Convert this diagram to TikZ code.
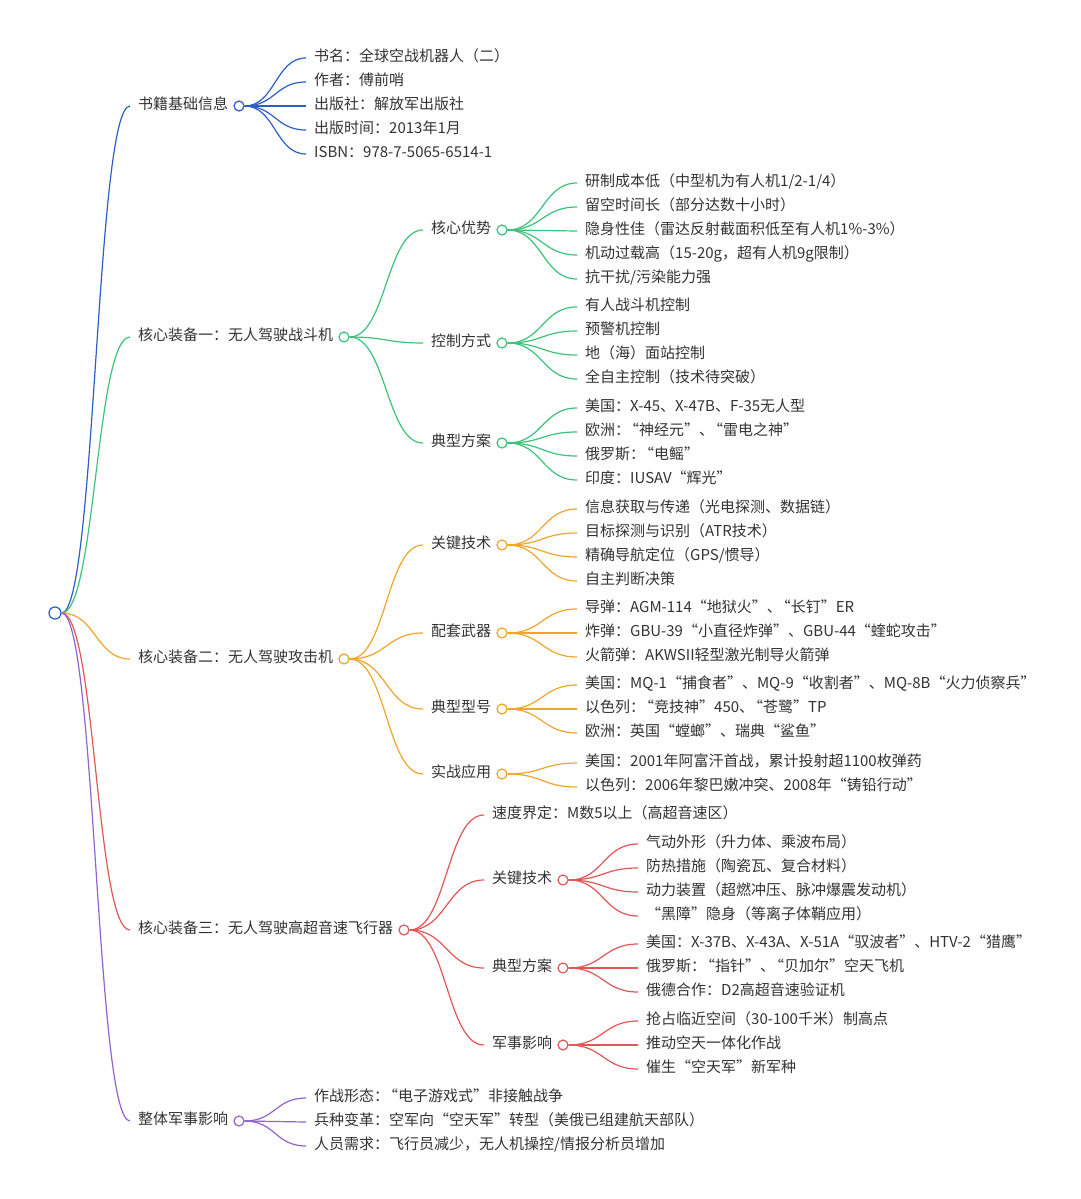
\documentclass[tikz,border=0pt]{standalone}
\usepackage{fontspec}
\setmainfont{Noto Sans CJK SC}
\usetikzlibrary{calc}
\definecolor{cb}{HTML}{2B5FC4}
\definecolor{cg}{HTML}{3CC27A}
\definecolor{co}{HTML}{F0A52A}
\definecolor{cr}{HTML}{E35656}
\definecolor{cp}{HTML}{9063CF}
\definecolor{txt}{HTML}{333333}
\newcommand\Lq{{\addfontfeature{CharacterWidth=Full}“}}
\newcommand\Rq{{\addfontfeature{CharacterWidth=Full}”}}
\newcommand\Lc{\hspace{-0.4em}\Lq}
\newcommand\lnkdraw[3]{\draw[lnk=#1] let \p1=(#2.east), \p2=(#3.west), \n1={(\x1+\x2)/2} in (#2.east) .. controls (\n1,\y1) and (\n1,\y2) .. (#3.west);}
\tikzset{
  lnk/.style={draw=#1, line width=1.2pt},
  tx/.style={anchor=west, inner xsep=8pt, inner ysep=0pt, text height=0.88em, text depth=0.12em, text=txt, font=\fontsize{15}{18}\selectfont},
  dot/.style={circle, draw=#1, fill=white, line width=1.2pt, minimum size=10pt, inner sep=0pt, anchor=west},
}
\begin{document}
\begin{tikzpicture}[x=1pt,y=-1pt]
\useasboundingbox[fill=white] (0,0) rectangle (1080,1199);
\begin{scope}[yshift=-2pt]
% root
\node[dot=cb, minimum size=12pt, anchor=center] (root) at (55,611) {};
% level 1
\node[tx] (b0) at (130,104) {书籍基础信息};
\node[dot=cb] (b0c) at ([xshift=-3pt]b0.east) {};
\node[tx] (g0) at (130,335) {核心装备一：无人驾驶战斗机};
\node[dot=cg] (g0c) at ([xshift=-3pt]g0.east) {};
\node[tx] (o0) at (130,657) {核心装备二：无人驾驶攻击机};
\node[dot=co] (o0c) at ([xshift=-3pt]o0.east) {};
\node[tx] (r0) at (130,928) {核心装备三：无人驾驶高超音速飞行器};
\node[dot=cr] (r0c) at ([xshift=-3pt]r0.east) {};
\node[tx] (p0) at (130,1119) {整体军事影响};
\node[dot=cp] (p0c) at ([xshift=-3pt]p0.east) {};
\foreach \nm/\cl in {b0/cb,g0/cg,o0/co,r0/cr,p0/cp}{\lnkdraw{\cl}{root}{\nm}}
% blue leaves
\node[tx] (b1) at (306,56) {书名：全球空战机器人（二）};
\node[tx] (b2) at (306,80) {作者：傅前哨};
\node[tx] (b3) at (306,104) {出版社：解放军出版社};
\node[tx] (b4) at (306,128) {出版时间：2013年1月};
\node[tx] (b5) at (306,152) {ISBN：978-7-5065-6514-1};
\foreach \nm in {b1,b2,b3,b4,b5}{\lnkdraw{cb}{b0c}{\nm}}
% green level 2
\node[tx] (g1) at (423,228) {核心优势};
\node[dot=cg] (g1c) at ([xshift=-3pt]g1.east) {};
\node[tx] (g2) at (423,341) {控制方式};
\node[dot=cg] (g2c) at ([xshift=-3pt]g2.east) {};
\node[tx] (g3) at (423,441) {典型方案};
\node[dot=cg] (g3c) at ([xshift=-3pt]g3.east) {};
\foreach \nm in {g1,g2,g3}{\lnkdraw{cg}{g0c}{\nm}}
\node[tx] (g11) at (577,181) {研制成本低（中型机为有人机1/2-1/4）};
\node[tx] (g12) at (577,205) {留空时间长（部分达数十小时）};
\node[tx] (g13) at (577,229) {隐身性佳（雷达反射截面积低至有人机1\%-3\%）};
\node[tx] (g14) at (577,253) {机动过载高（15-20g，超有人机9g限制）};
\node[tx] (g15) at (577,277) {抗干扰/污染能力强};
\foreach \nm in {g11,g12,g13,g14,g15}{\lnkdraw{cg}{g1c}{\nm}}
\node[tx] (g21) at (577,305) {有人战斗机控制};
\node[tx] (g22) at (577,329) {预警机控制};
\node[tx] (g23) at (577,353) {地（海）面站控制};
\node[tx] (g24) at (577,377) {全自主控制（技术待突破）};
\foreach \nm in {g21,g22,g23,g24}{\lnkdraw{cg}{g2c}{\nm}}
\node[tx] (g31) at (577,406) {美国：X-45、X-47B、F-35无人型};
\node[tx] (g32) at (577,430) {欧洲：\Lc 神经元\Rq 、\Lc 雷电之神\Rq};
\node[tx] (g33) at (577,454) {俄罗斯：\Lc 电鳐\Rq};
\node[tx] (g34) at (577,478) {印度：IUSAV\Lq 辉光\Rq};
\foreach \nm in {g31,g32,g33,g34}{\lnkdraw{cg}{g3c}{\nm}}
% orange level 2
\node[tx] (o1) at (423,543) {关键技术};
\node[dot=co] (o1c) at ([xshift=-3pt]o1.east) {};
\node[tx] (o2) at (423,631) {配套武器};
\node[dot=co] (o2c) at ([xshift=-3pt]o2.east) {};
\node[tx] (o3) at (423,707) {典型型号};
\node[dot=co] (o3c) at ([xshift=-3pt]o3.east) {};
\node[tx] (o4) at (423,772) {实战应用};
\node[dot=co] (o4c) at ([xshift=-3pt]o4.east) {};
\foreach \nm in {o1,o2,o3,o4}{\lnkdraw{co}{o0c}{\nm}}
\node[tx] (o11) at (577,507) {信息获取与传递（光电探测、数据链）};
\node[tx] (o12) at (577,531) {目标探测与识别（ATR技术）};
\node[tx] (o13) at (577,555) {精确导航定位（GPS/惯导）};
\node[tx] (o14) at (577,579) {自主判断决策};
\foreach \nm in {o11,o12,o13,o14}{\lnkdraw{co}{o1c}{\nm}}
\node[tx] (o21) at (577,607) {导弹：AGM-114\Lq 地狱火\Rq 、\Lc 长钉\Rq ER};
\node[tx] (o22) at (577,631) {炸弹：GBU-39\Lq 小直径炸弹\Rq 、GBU-44\Lq 蝰蛇攻击\Rq};
\node[tx] (o23) at (577,655) {火箭弹：AKWSII轻型激光制导火箭弹};
\foreach \nm in {o21,o22,o23}{\lnkdraw{co}{o2c}{\nm}}
\node[tx] (o31) at (577,683) {美国：MQ-1\Lq 捕食者\Rq 、MQ-9\Lq 收割者\Rq 、MQ-8B\Lq 火力侦察兵\Rq};
\node[tx] (o32) at (577,707) {以色列：\Lc 竞技神\Rq 450、\Lc 苍鹭\Rq TP};
\node[tx] (o33) at (577,731) {欧洲：英国\Lq 螳螂\Rq 、瑞典\Lq 鲨鱼\Rq};
\foreach \nm in {o31,o32,o33}{\lnkdraw{co}{o3c}{\nm}}
\node[tx] (o41) at (577,761) {美国：2001年阿富汗首战，累计投射超1100枚弹药};
\node[tx] (o42) at (577,785) {以色列：2006年黎巴嫩冲突、2008年\Lq 铸铅行动\Rq};
\foreach \nm in {o41,o42}{\lnkdraw{co}{o4c}{\nm}}
% red level 2
\node[tx] (r1) at (484,813) {速度界定：M数5以上（高超音速区）};
\node[tx] (r2) at (484,878) {关键技术};
\node[dot=cr] (r2c) at ([xshift=-3pt]r2.east) {};
\node[tx] (r3) at (484,966) {典型方案};
\node[dot=cr] (r3c) at ([xshift=-3pt]r3.east) {};
\node[tx] (r4) at (484,1043) {军事影响};
\node[dot=cr] (r4c) at ([xshift=-3pt]r4.east) {};
\foreach \nm in {r1,r2,r3,r4}{\lnkdraw{cr}{r0c}{\nm}}
\node[tx] (r21) at (638,842) {气动外形（升力体、乘波布局）};
\node[tx] (r22) at (638,866) {防热措施（陶瓷瓦、复合材料）};
\node[tx] (r23) at (638,890) {动力装置（超燃冲压、脉冲爆震发动机）};
\node[tx] (r24) at (638,914) {\Lq 黑障\Rq 隐身（等离子体鞘应用）};
\foreach \nm in {r21,r22,r23,r24}{\lnkdraw{cr}{r2c}{\nm}}
\node[tx] (r31) at (638,942) {美国：X-37B、X-43A、X-51A\Lq 驭波者\Rq 、HTV-2\Lq 猎鹰\Rq};
\node[tx] (r32) at (638,966) {俄罗斯：\Lc 指针\Rq 、\Lc 贝加尔\Rq 空天飞机};
\node[tx] (r33) at (638,990) {俄德合作：D2高超音速验证机};
\foreach \nm in {r31,r32,r33}{\lnkdraw{cr}{r3c}{\nm}}
\node[tx] (r41) at (638,1019) {抢占临近空间（30-100千米）制高点};
\node[tx] (r42) at (638,1043) {推动空天一体化作战};
\node[tx] (r43) at (638,1067) {催生\Lq 空天军\Rq 新军种};
\foreach \nm in {r41,r42,r43}{\lnkdraw{cr}{r4c}{\nm}}
% purple leaves
\node[tx] (p1) at (306,1096) {作战形态：\Lc 电子游戏式\Rq 非接触战争};
\node[tx] (p2) at (306,1120) {兵种变革：空军向\Lq 空天军\Rq 转型（美俄已组建航天部队）};
\node[tx] (p3) at (306,1144) {人员需求：飞行员减少，无人机操控/情报分析员增加};
\foreach \nm in {p1,p2,p3}{\lnkdraw{cp}{p0c}{\nm}}
\end{scope}
\end{tikzpicture}
\end{document}
